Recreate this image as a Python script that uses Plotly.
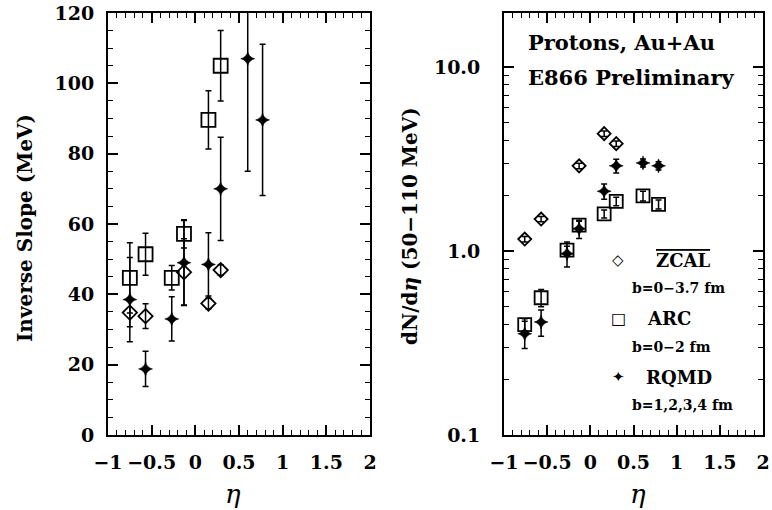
import plotly.graph_objects as go

# ---------------- Data ----------------
# Left panel: inverse slope (MeV) vs eta
eta_zcal_L = [-0.75, -0.57, -0.13, 0.15, 0.29]
slope_zcal = [34.8, 33.8, 46.3, 37.4, 46.9]
slope_zcal_err = [4.0, 3.5, 9.5, 1.5, 1.5]

eta_arc_L = [-0.75, -0.57, -0.27, -0.13, 0.15, 0.29]
slope_arc = [44.7, 51.4, 44.7, 57.2, 89.6, 105.0]
slope_arc_err = [10.0, 6.0, 3.5, 4.0, 8.3, 10.0]

eta_rqmd_L = [-0.75, -0.57, -0.27, -0.13, 0.15, 0.29, 0.60, 0.77]
slope_rqmd = [38.5, 18.8, 33.0, 49.0, 48.5, 70.0, 107.0, 89.6]
slope_rqmd_err = [12.0, 5.0, 6.3, 12.0, 9.0, 14.7, 32.0, 21.5]

# Right panel: dN/deta (50-110 MeV) vs eta
eta_zcal_R = [-0.76, -0.57, -0.13, 0.16, 0.30]
dndeta_zcal = [1.16, 1.49, 2.90, 4.34, 3.83]
dndeta_zcal_err = [0.04, 0.05, 0.10, 0.15, 0.13]

eta_arc_R = [-0.76, -0.57, -0.27, -0.13, 0.16, 0.30, 0.61, 0.79]
dndeta_arc = [0.398, 0.557, 1.01, 1.38, 1.59, 1.86, 1.99, 1.79]
dndeta_arc_err = [0.03, 0.06, 0.05, 0.07, 0.08, 0.10, 0.12, 0.10]

eta_rqmd_R = [-0.76, -0.57, -0.27, -0.13, 0.16, 0.30, 0.61, 0.79]
dndeta_rqmd = [0.355, 0.411, 0.967, 1.32, 2.11, 2.90, 3.01, 2.90]
dndeta_rqmd_err = [0.06, 0.067, 0.15, 0.15, 0.20, 0.25, 0.15, 0.15]

x_ticks = [-1, -0.5, 0, 0.5, 1, 1.5, 2]
x_ticktext = ["\u22121", "\u22120.5", "0", "0.5", "1", "1.5", "2"]
yL_ticks = [0, 20, 40, 60, 80, 100, 120]
yR_major = [0.1, 1, 10]
yR_major_text = ["0.1", "1.0", "10.0"]
yR_extra = [0.5, 5]
yR_extra_text = ["0.5", "5.0"]
yR_minor = [0.2, 0.3, 0.4, 0.5, 0.6, 0.7, 0.8, 0.9, 2, 3, 4, 5, 6, 7, 8, 9]

FONT = "DejaVu Serif"
BLACK = "black"

fig = go.Figure()


def add_series(x, y, err, symbol, size, xa, ya, lw=1.8):
    fig.add_trace(go.Scatter(
        x=x, y=y, mode="markers", xaxis=xa, yaxis=ya, showlegend=False,
        marker=dict(symbol=symbol, size=size, color=BLACK,
                    line=dict(color=BLACK, width=lw)),
        error_y=dict(type="data", array=err, visible=True, color=BLACK,
                     thickness=1.5, width=3),
    ))


# Left panel
add_series(eta_arc_L, slope_arc, slope_arc_err, "square-open", 14, "x", "y")
add_series(eta_rqmd_L, slope_rqmd, slope_rqmd_err, "star-diamond", 10, "x", "y", lw=0.5)
add_series(eta_zcal_L, slope_zcal, slope_zcal_err, "diamond-open", 11, "x", "y")

# Right panel
add_series(eta_arc_R, dndeta_arc, dndeta_arc_err, "square-open", 13, "x2", "y2")
add_series(eta_rqmd_R, dndeta_rqmd, dndeta_rqmd_err, "star-diamond", 10, "x2", "y2", lw=0.5)
add_series(eta_zcal_R, dndeta_zcal, dndeta_zcal_err, "diamond-open", 10, "x2", "y2")

tickfont = dict(family=FONT, size=19, color=BLACK, weight="bold")

common = dict(showline=True, linewidth=2, linecolor=BLACK, mirror="ticks",
              ticks="inside", ticklen=10, tickwidth=1.5, tickcolor=BLACK,
              showgrid=False, zeroline=False, tickfont=tickfont,
              automargin=False)

xcommon = dict(common, range=[-1, 2], tickmode="array", tickvals=x_ticks,
               ticktext=x_ticktext, ticklabelstandoff=9,
               minor=dict(dtick=0.1, ticks="inside", ticklen=5,
                          tickwidth=1.2, tickcolor=BLACK, showgrid=False))

fig.update_layout(
    width=772, height=510,
    margin=dict(l=0, r=0, t=13, b=75),
    paper_bgcolor="white", plot_bgcolor="white",
    showlegend=False,
    xaxis=dict(xcommon, domain=[108 / 772, 370 / 772], anchor="y"),
    yaxis=dict(common, domain=[0, 1], anchor="x", range=[0, 120],
               tickmode="array", tickvals=yL_ticks, ticklabelstandoff=8,
               minor=dict(dtick=5, ticks="inside", ticklen=5, tickwidth=1.2,
                          tickcolor=BLACK, showgrid=False)),
    xaxis2=dict(xcommon, domain=[504 / 772, 763 / 772], anchor="y2"),
    yaxis2=dict(common, domain=[0, 1], anchor="x2", type="log",
                range=[-1, 1.293], tickmode="array", tickvals=yR_major,
                ticktext=yR_major_text, ticklabelstandoff=18,
                minor=dict(tickmode="array", tickvals=yR_minor, ticks="inside",
                           ticklen=5, tickwidth=1.2, tickcolor=BLACK,
                           showgrid=False)),
    yaxis3=dict(overlaying="y2", anchor="x2", type="log", range=[-1, 1.293],
                tickmode="array", tickvals=yR_extra, ticktext=yR_extra_text,
                ticks="", showline=False, showgrid=False, zeroline=False,
                tickfont=tickfont, ticklabelstandoff=18, side="left",
                automargin=False),
)

ann = []
def txt(x, y, s, size, xanchor="center", angle=0, family=FONT, weight="bold"):
    ann.append(dict(x=x, y=y, xref="paper", yref="paper", text=s,
                    showarrow=False, xanchor=xanchor, yanchor="middle",
                    textangle=angle, borderpad=0,
                    font=dict(family=family, size=size, color=BLACK, weight=weight)))

# axis titles
txt(25 / 772, (435 - 228) / 422, "Inverse Slope (MeV)", 20, angle=-90)
txt(410 / 772, (435 - 226) / 422, "dN/d<i>\u03b7</i> (50\u2212110 MeV)", 20, angle=-90)
txt(233 / 772, (435 - 494) / 422, "<i>\u03b7</i>", 26, weight="normal")
txt(638 / 772, (435 - 494) / 422, "<i>\u03b7</i>", 26, weight="normal")

# in-panel text
txt(527 / 772, (435 - 43) / 422, "Protons, Au+Au", 21, xanchor="left")
txt(527 / 772, (435 - 77) / 422, "E866 Preliminary", 21, xanchor="left")

# legend
txt(618 / 772, (435 - 260) / 422, "\u25c7", 15, family="DejaVu Sans")
txt(683 / 772, (435 - 260) / 422,
    "<span style='text-decoration:overline'>ZCAL</span>", 18)
txt(631 / 772, (435 - 288) / 422, "b=0\u22123.7 fm", 14, xanchor="left")
txt(618 / 772, (435 - 318) / 422, "\u25a1", 16, family="DejaVu Sans")
txt(669 / 772, (435 - 318) / 422, "ARC", 18)
txt(631 / 772, (435 - 347) / 422, "b=0\u22122 fm", 14, xanchor="left")
txt(618 / 772, (435 - 377) / 422, "\u2726", 15, family="DejaVu Sans")
txt(679 / 772, (435 - 377) / 422, "RQMD", 18)
txt(631 / 772, (435 - 405) / 422, "b=1,2,3,4 fm", 14, xanchor="left")

fig.update_layout(annotations=ann)

fig.write_html("out.html")
